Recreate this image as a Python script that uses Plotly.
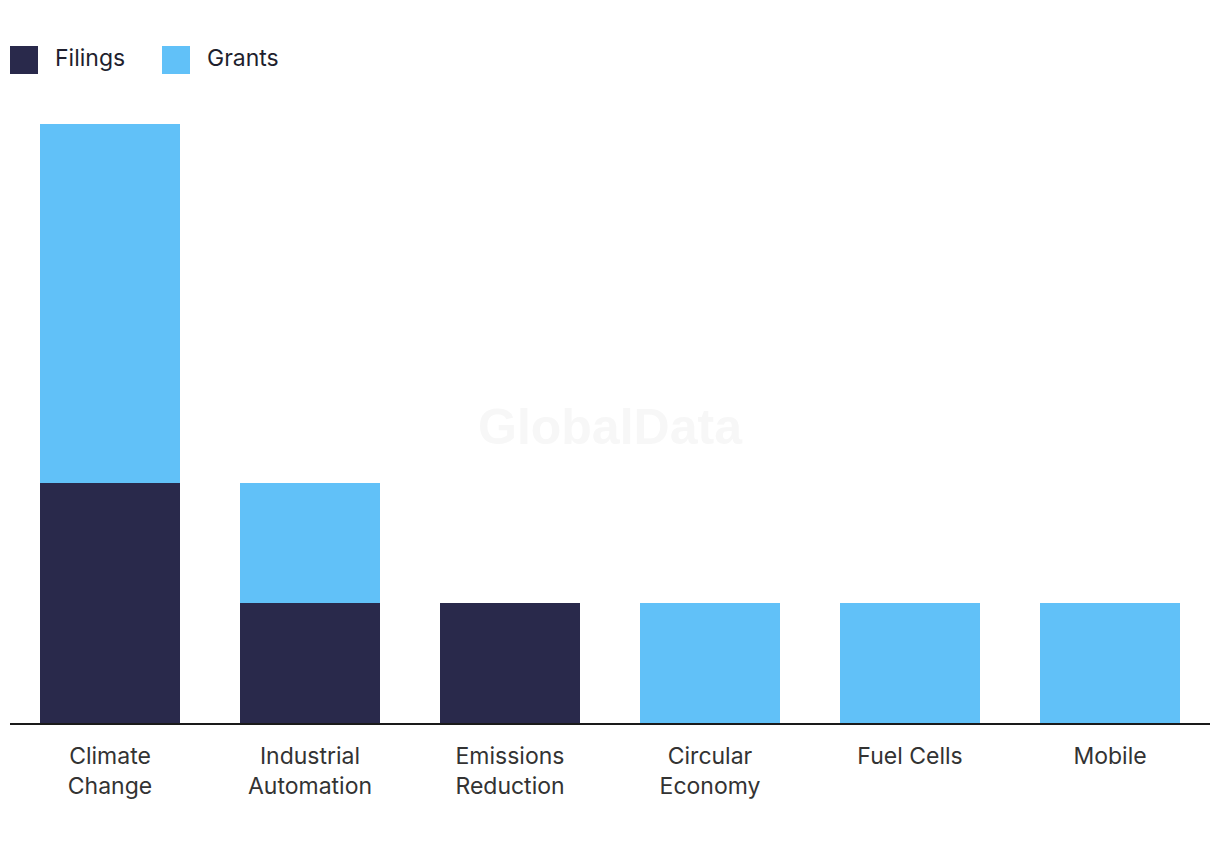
import plotly.graph_objects as go

categories = ["Climate<br>Change", "Industrial<br>Automation", "Emissions<br>Reduction",
              "Circular<br>Economy", "Fuel Cells", "Mobile"]
filings = [2, 1, 1, 0, 0, 0]
grants = [3, 1, 0, 1, 1, 1]

FILINGS_COLOR = "#29294B"
GRANTS_COLOR = "#61C1F8"
FONT = "Inter, Roboto, sans-serif"

fig = go.Figure()
fig.add_trace(go.Bar(name="Filings", x=categories, y=filings, marker_color=FILINGS_COLOR,
                     marker_line_width=0, width=0.7))
fig.add_trace(go.Bar(name="Grants", x=categories, y=grants, marker_color=GRANTS_COLOR,
                     marker_line_width=0, width=0.7))

fig.update_layout(
    barmode="stack",
    width=1220, height=850,
    margin=dict(l=2, r=18, t=116, b=135),
    paper_bgcolor="white", plot_bgcolor="white",
    showlegend=False,
    font=dict(family=FONT, size=23, color="#333333"),
)
fig.update_xaxes(showline=True, linecolor="#1a1a1a", linewidth=2, ticks="",
                 ticklabelstandoff=11,
                 tickfont=dict(size=23, color="#333333"), showgrid=False)
fig.update_yaxes(range=[0, 5], visible=False, showgrid=False)

# custom legend
legend_items = [("Filings", FILINGS_COLOR, 10), ("Grants", GRANTS_COLOR, 162)]
for name, color, x0 in legend_items:
    fig.add_shape(type="rect", xref="paper", yref="paper",
                  x0=(x0 - 10) / 1200, x1=(x0 + 28 - 10) / 1200,
                  y0=(723 - 74) / 599, y1=(723 - 46) / 599,
                  fillcolor=color, line_width=0)
    fig.add_annotation(text=name, xref="paper", yref="paper",
                       x=(x0 + 43 - 10) / 1200, y=(723 - 58) / 599,
                       xanchor="left", yanchor="middle", showarrow=False,
                       font=dict(family=FONT, size=23, color="#1f1f2e"))

# watermark
fig.add_annotation(text="<b>GlobalData</b>", xref="paper", yref="paper",
                   x=0.5, y=(723 - 427) / 599, showarrow=False,
                   font=dict(family="Liberation Sans, Arial, sans-serif", size=50, color="#F7F7F7"))

fig.write_html("out.html")
